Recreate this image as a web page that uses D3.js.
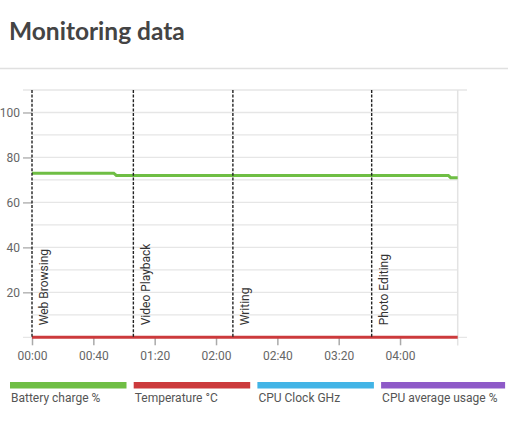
<!DOCTYPE html>
<meta charset="utf-8">
<style>
body { margin:0; background:#fff; }
.title { font: bold 24.5px Lato; fill:#444; }
.chart text { font-family: Roboto, sans-serif; font-size:12px; fill:#666; }
.event text { fill:#333; }
.legend text { font-family: Roboto, sans-serif; font-size:12px; fill:#555; }
</style>
<body>
<script src="https://d3js.org/d3.v7.min.js"></script>
<script>

// minutes since start
var times       = [0, 53.3, 55, 271.5, 273, 277.6];
var battery     = [73, 73, 72, 72, 71, 71];
var temperature = [0, 0, 0, 0, 0, 0];

var eventNames = ["Web Browsing","Video Playback","Writing","Photo Editing"];
var eventTimes = [0, 66.1, 131, 221.5];

var xTicks = [0, 40, 80, 120, 160, 200, 240];
var yLabels = [20, 40, 60, 80, 100];

var seriesNames  = ["Battery charge %","Temperature °C","CPU Clock GHz","CPU average usage %"];
var seriesColors = ["#6fbe44","#cc3a3c","#42b4e6","#8e5ac8"];

var W = 508, H = 422;
var svg = d3.select("body").append("svg").attr("width", W).attr("height", H);

svg.append("text").attr("class","title").attr("x",9).attr("y",39.5).text("Monitoring data");
svg.append("line").attr("x1",0).attr("x2",W).attr("y1",68.5).attr("y2",68.5)
	.style("stroke","#e0e0e0").style("stroke-width",1.5);

var x = d3.scaleLinear().domain([0, d3.max(times)]).range([32, 457.7]);
var y = d3.scaleLinear().domain([0, 110]).range([337.3, 90]);

var g = svg.append("g").attr("class","chart");

// grid
var gridVals = d3.range(0, 111, 10);
g.selectAll(".grid").data(gridVals).enter().append("line")
	.attr("x1", d => (d == 0 || d == 110) ? 23 : x.range()[0])
	.attr("x2", d => (d == 0 || d == 110) ? 467 : x.range()[1])
	.attr("y1", d => y(d)).attr("y2", d => y(d))
	.style("stroke","#e6e6e6").style("stroke-width",1.3);

g.append("line").attr("x1",x.range()[1]).attr("x2",x.range()[1])
	.attr("y1",y(110)).attr("y2",345.5)
	.style("stroke","#e3e3e3").style("stroke-width",1.5);

// y axis
var yAxis = g.append("g").attr("transform","translate(" + x.range()[0] + ",0)")
	.call(d3.axisLeft(y).tickValues(yLabels).tickSize(9).tickSizeOuter(0).tickPadding(3));
yAxis.select(".domain").remove();
yAxis.selectAll("line").style("stroke","#aaa").style("stroke-width",1.3);

// x axis
var fmt = m => d3.format("02")(Math.floor(m/60)) + ":" + d3.format("02")(m % 60);
var xAxis = g.append("g").attr("transform","translate(0," + y(0) + ")")
	.call(d3.axisBottom(x).tickValues(xTicks).tickFormat(fmt).tickSize(8).tickSizeOuter(0).tickPadding(6));
xAxis.select(".domain").remove();
xAxis.selectAll("line").style("stroke","#aaa").style("stroke-width",1.5);

// series
var pts = (vals) => times.map((t,i) => [t, vals[i]]);
var line = d3.line().x(d => x(d[0])).y(d => y(d[1]));
g.append("path").datum(pts(temperature)).attr("d", line)
	.style("fill","none").style("stroke",seriesColors[1]).style("stroke-width",3);
g.append("path").datum(pts(battery)).attr("d", line)
	.style("fill","none").style("stroke",seriesColors[0]).style("stroke-width",3);

// events
var ev = g.selectAll(".event").data(eventNames).enter().append("g").attr("class","event")
	.attr("transform",(d,i) => "translate(" + x(eventTimes[i]) + ",0)");
ev.append("line").attr("y1",y(110)).attr("y2",y(0))
	.style("stroke","#222").style("stroke-width",1.4).style("stroke-dasharray","3,1.6");
ev.append("text").attr("transform","translate(12," + (y(0) - 12) + ") rotate(-90)")
	.attr("dy","0.35em").text(d => d);

// legend
var legW = 123.7;
var leg = svg.append("g").attr("class","legend").selectAll("g").data(seriesNames).enter().append("g")
	.attr("transform",(d,i) => "translate(" + (10 + i*legW) + ",0)");
leg.append("rect").attr("y",382).attr("width",(d,i) => i == 3 ? 124 : 116.5).attr("height",6.5)
	.style("fill",(d,i) => seriesColors[i]);
leg.append("text").attr("x",1).attr("y",401.5).text(d => d);

</script>
</body>
